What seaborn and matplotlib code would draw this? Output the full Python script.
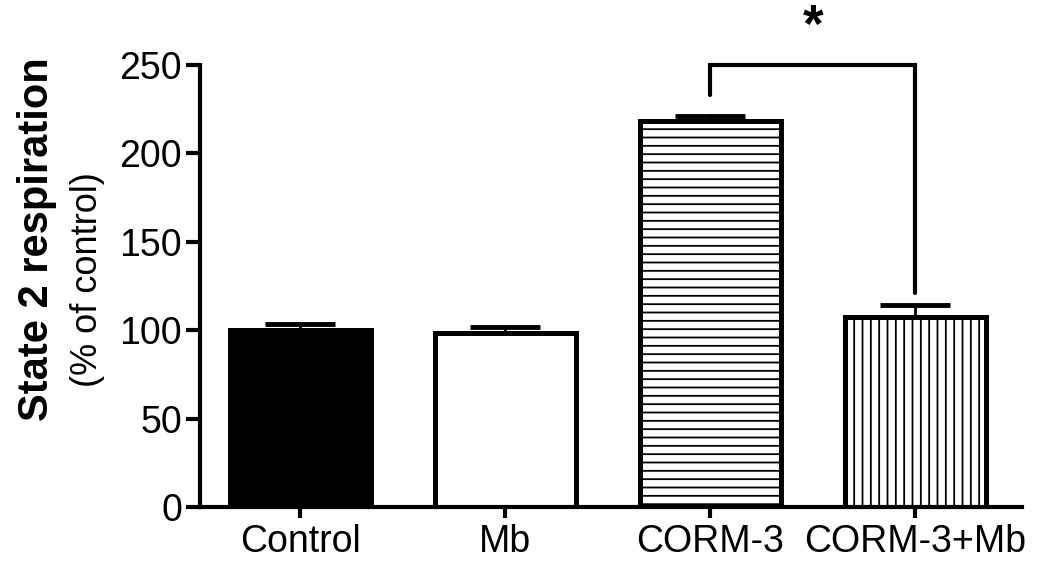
import numpy as np
import pandas as pd
import matplotlib
matplotlib.use('Agg')
import matplotlib.pyplot as plt
import seaborn as sns

# Data
groups = ['Control', 'Mb', 'CORM-3', 'CORM-3+Mb']
means = [100, 98.5, 218.5, 107.5]
sem = [3.5, 3.5, 2.5, 6.5]
fills = ['black', 'white', 'white', 'white']
hatches = ['', '', '--', '||']
y_ticks = [0, 50, 100, 150, 200, 250]

sns.set_style('ticks')
plt.rcParams['font.family'] = ['Liberation Sans', 'DejaVu Sans']
plt.rcParams['hatch.linewidth'] = 1.3
plt.rcParams['text.color'] = 'black'
plt.rcParams['xtick.color'] = 'black'
plt.rcParams['ytick.color'] = 'black'
plt.rcParams['axes.edgecolor'] = 'black'

data = pd.DataFrame({'group': groups, 'value': means})

fig = plt.figure(figsize=(10.37, 5.72), dpi=100)
ax = fig.add_axes([0.1929, 0.1136, 0.7926, 0.7728])

sns.barplot(data=data, x='group', y='value', ax=ax, color='white',
            edgecolor='black', linewidth=3.6, width=0.69, errorbar=None,
            saturation=1)

for bar, fc, h in zip(ax.patches, fills, hatches):
    bar.set_facecolor(fc)
    bar.set_hatch(h)
    bar.set_edgecolor('black')

# one-sided error bars (upper only)
x = np.arange(len(groups))
ax.errorbar(x, means, yerr=[np.zeros(len(sem)), sem], fmt='none',
            ecolor='black', elinewidth=2, capsize=25, capthick=3.5, zorder=1)

# significance bracket between CORM-3 and CORM-3+Mb
top = 250
left_end = means[2] + sem[2] + 12
right_end = means[3] + sem[3] + 7
ax.plot([2, 2, 3, 3], [left_end, top, top, right_end], color='black',
        lw=3, clip_on=False, solid_joinstyle='miter')
ax.text(2.5, 271, '*', ha='center', va='center', fontsize=38,
        fontweight='bold', clip_on=False)

ax.set_xlim(-0.49, 3.52)
ax.set_ylim(0, 250)
ax.set_yticks(y_ticks)
ax.set_xlabel('')
ax.set_ylabel('')
ax.tick_params(axis='y', labelsize=27, length=10, width=3, direction='out', pad=3)
ax.tick_params(axis='x', labelsize=27, length=8, width=3, direction='out', pad=4)
sns.despine(ax=ax)
for s in ['left', 'bottom']:
    ax.spines[s].set_linewidth(3)

fig.text(0.036, 0.582, 'State 2 respiration', rotation=90, ha='center',
         va='center', fontsize=30, fontweight='bold')
fig.text(0.084, 0.512, '(% of control)', rotation=90, ha='center',
         va='center', fontsize=26)

fig.savefig('out.png', dpi=100)
